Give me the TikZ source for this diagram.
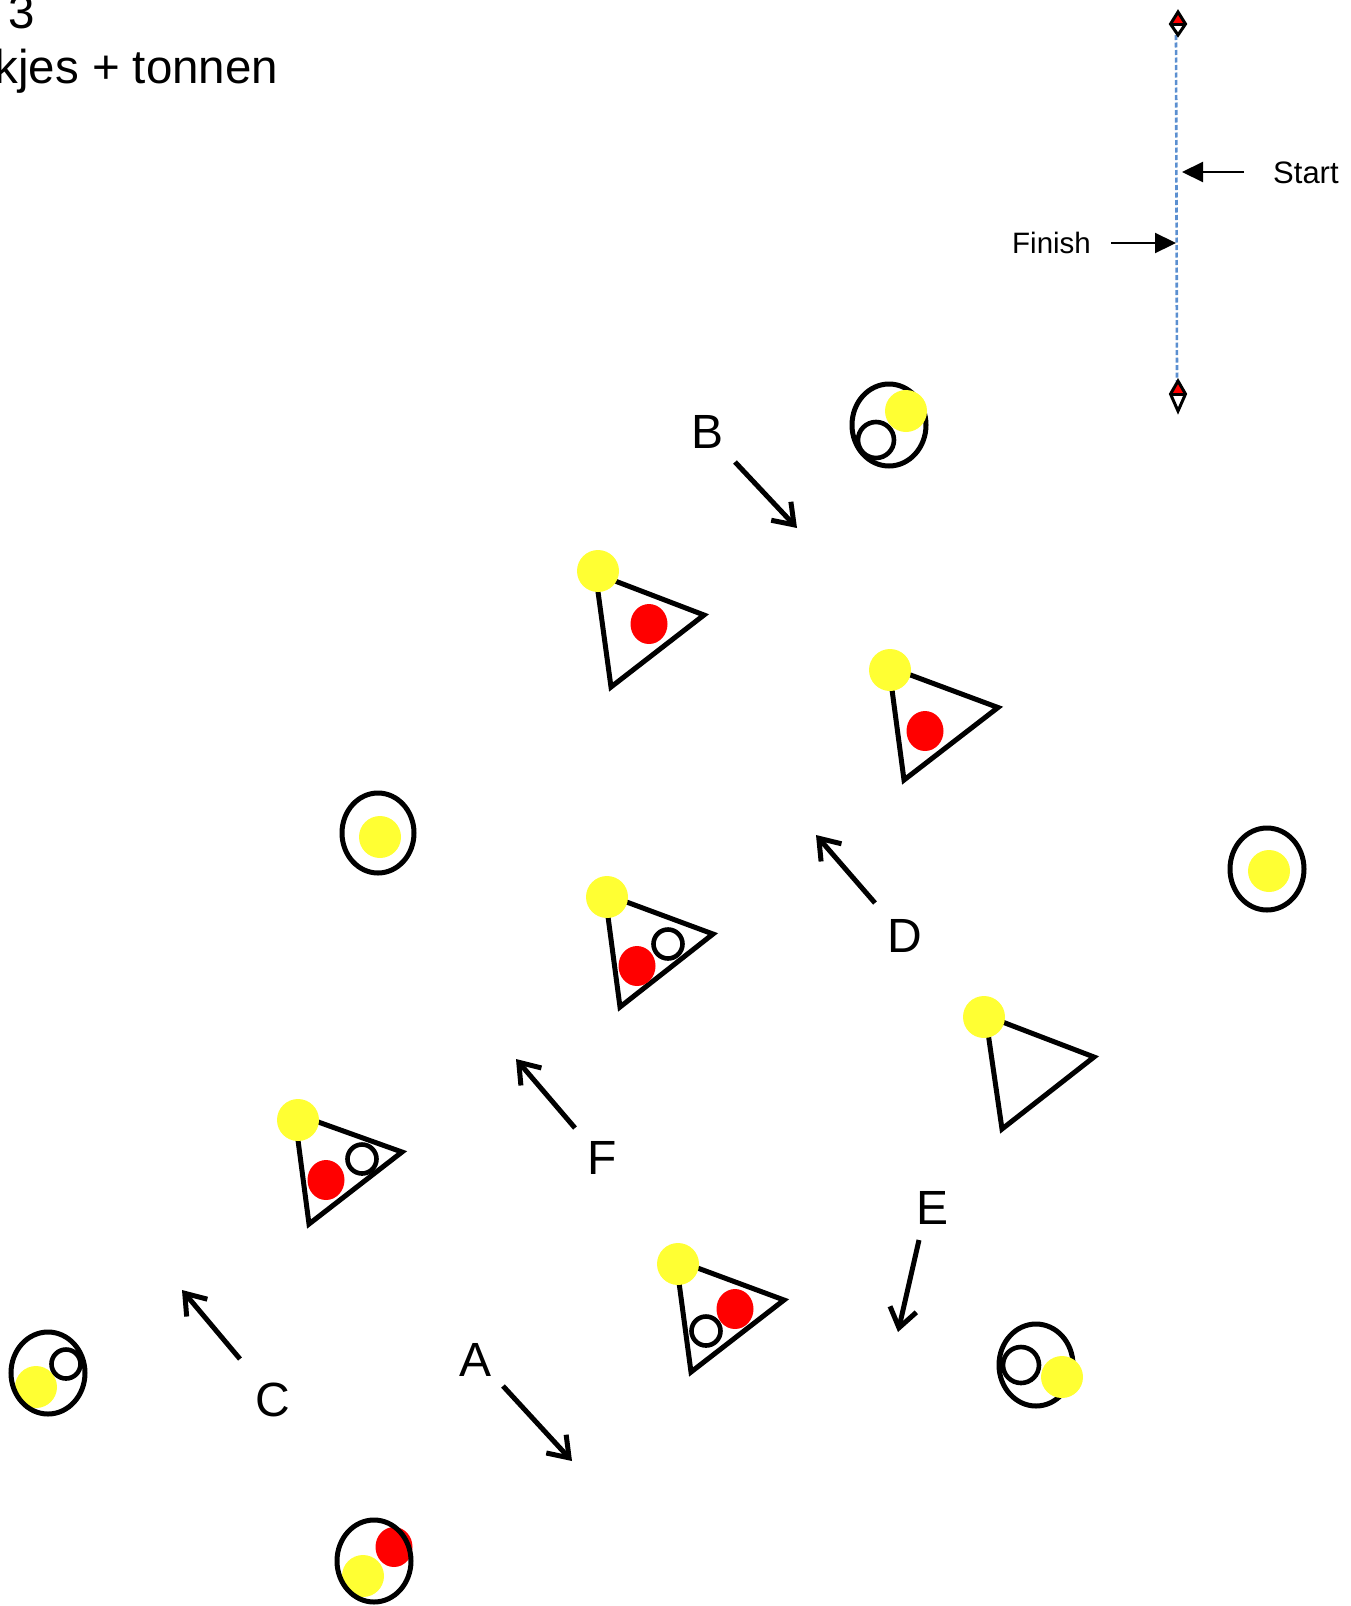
\documentclass[tikz,border=0pt]{standalone}
\usepackage{fontspec}
\setmainfont{Liberation Sans}
\usetikzlibrary{arrows.meta}
\definecolor{ballyellow}{HTML}{FFFF33}
\definecolor{ballred}{HTML}{FF0000}
\definecolor{lineblue}{HTML}{5B8FD0}
\tikzset{
  x=1pt,y=-1pt,
  outline/.style={draw=black,line width=5pt,line join=miter},
  yball/.style={fill=ballyellow,draw=none},
  rball/.style={fill=ballred,draw=none},
  whitering/.style={draw=black,line width=4.6pt,fill=none},
  movearrow/.style={draw=black,line width=5pt,-{Straight Barb[length=19pt,width=27pt,line width=5pt]}},
  bigtext/.style={font=\fontsize{48}{48}\selectfont,inner sep=0pt,text=black},
  titletext/.style={font=\fontsize{47.5}{47.5}\selectfont,inner sep=0pt,text=black},
  starttext/.style={font=\fontsize{31}{31}\selectfont,inner sep=0pt,text=black},
  finishtext/.style={font=\fontsize{29.5}{29.5}\selectfont,inner sep=0pt,text=black},
  thinarrow/.style={draw=black,line width=2.2pt,-{Stealth[length=21pt,width=20pt,inset=0pt]}},
}
\newcommand{\triangleshape}[3]{\draw[outline] (#1) -- (#2) -- (#3) -- cycle;}
\newcommand{\yellowball}[1]{\fill[yball] (#1) circle [radius=21];}
\newcommand{\redball}[1]{\fill[rball] (#1) ellipse [x radius=18.5,y radius=20];}
\newcommand{\ringball}[2]{\draw[whitering] (#1) circle [radius=#2];}
\newcommand{\barrel}[1]{\draw[outline] (#1) ellipse [x radius=37,y radius=41];}
\newcommand{\gatemark}[3]{
  \begin{scope}[shift={(#1)}]
    \fill[ballred] (0,-#2) -- (-7,0) -- (7,0) -- cycle;
    \draw[black,line width=3pt,line join=miter] (0,-#2) -- (-7.5,0) -- (0,#3) -- (7.5,0) -- cycle;
    \draw[black,line width=3pt] (-7.5,0) -- (7.5,0);
  \end{scope}}
\begin{document}
\begin{tikzpicture}
\useasboundingbox (0,0) rectangle (1351,1606);
\clip (0,0) rectangle (1351,1606);
% title
\node[titletext,anchor=base west] (title3) at (8,28) {3};
\node[titletext,anchor=base east] (title) at (278.5,83) {kjes + tonnen};
% gate line
\coordinate (gtop) at (1178,24);
\coordinate (gbot) at (1178,394);
\coordinate (linetop) at (1176,35);
\coordinate (linebot) at (1177,381);
\draw[lineblue,line width=2.6pt,dash pattern=on 5pt off 2.5pt] (linetop) -- (linebot);
\gatemark{gtop}{12}{11}
\gatemark{gbot}{13}{17}
\node[starttext,anchor=base west] (start) at (1273,183) {Start};
\node[finishtext,anchor=base west] (finish) at (1012,253) {Finish};
\coordinate (startA) at (1244,172); \coordinate (startB) at (1182,172);
\coordinate (finA) at (1111,243); \coordinate (finB) at (1176,243);
\draw[thinarrow] (startA) -- (startB);
\draw[thinarrow] (finA) -- (finB);
% triangle 1
\triangleshape{595.5,573.5}{704,615}{611,687}
\redball{649,624}
\yellowball{598,571}
% triangle 2
\triangleshape{889,667}{998,707.5}{904,780}
\redball{925,731}
\yellowball{890,670}
% triangle 3
\triangleshape{605,894}{713,934}{620,1007}
\redball{637,966}
\ringball{668,944}{14.5}
\yellowball{607,897}
% triangle 4
\triangleshape{985.5,1015.5}{1094,1057}{1002,1129}
\yellowball{984,1017}
% triangle 5
\triangleshape{294.5,1113.5}{402,1152}{309,1224}
\redball{326,1180}
\ringball{362,1159}{14.5}
\yellowball{298,1120}
% triangle 6
\triangleshape{676,1260}{784,1300}{691,1372}
\redball{735,1309}
\ringball{706,1331}{14.5}
\yellowball{678,1264}
% barrels
\barrel{889,425}
\ringball{876,440}{18}
\yellowball{906,411}
\draw[outline] (378,833) ellipse [x radius=36,y radius=40];
\yellowball{380,837}
\barrel{1267,869}
\yellowball{1269,871}
\barrel{1036,1365}
\ringball{1021,1365}{18}
\yellowball{1062,1377}
\yellowball{36,1387}
\barrel{48,1373}
\ringball{66,1364}{14.5}
\redball{394,1547}
\yellowball{363,1576}
\barrel{374,1561}
% movement arrows
\coordinate (aA) at (503,1386); \coordinate (aB) at (572,1461);
\coordinate (bA) at (735,462);  \coordinate (bB) at (797,528);
\coordinate (cA) at (240,1359); \coordinate (cB) at (182,1290);
\coordinate (dA) at (875,903);  \coordinate (dB) at (816,835);
\coordinate (eA) at (919,1240); \coordinate (eB) at (898,1332);
\coordinate (fA) at (575,1128); \coordinate (fB) at (516,1059);
\draw[movearrow] (aA) -- (aB);
\draw[movearrow] (bA) -- (bB);
\draw[movearrow] (cA) -- (cB);
\draw[movearrow] (dA) -- (dB);
\draw[movearrow] (eA) -- (eB);
\draw[movearrow] (fA) -- (fB);
% labels
\node[bigtext] (la) at (476,1360) {A};
\node[bigtext] (lb) at (707,432) {B};
\node[bigtext] (lc) at (272.5,1400) {C};
\node[bigtext] (ld) at (905,936) {D};
\node[bigtext] (le) at (932,1208) {E};
\node[bigtext] (lf) at (602,1158) {F};
\end{tikzpicture}
\end{document}
